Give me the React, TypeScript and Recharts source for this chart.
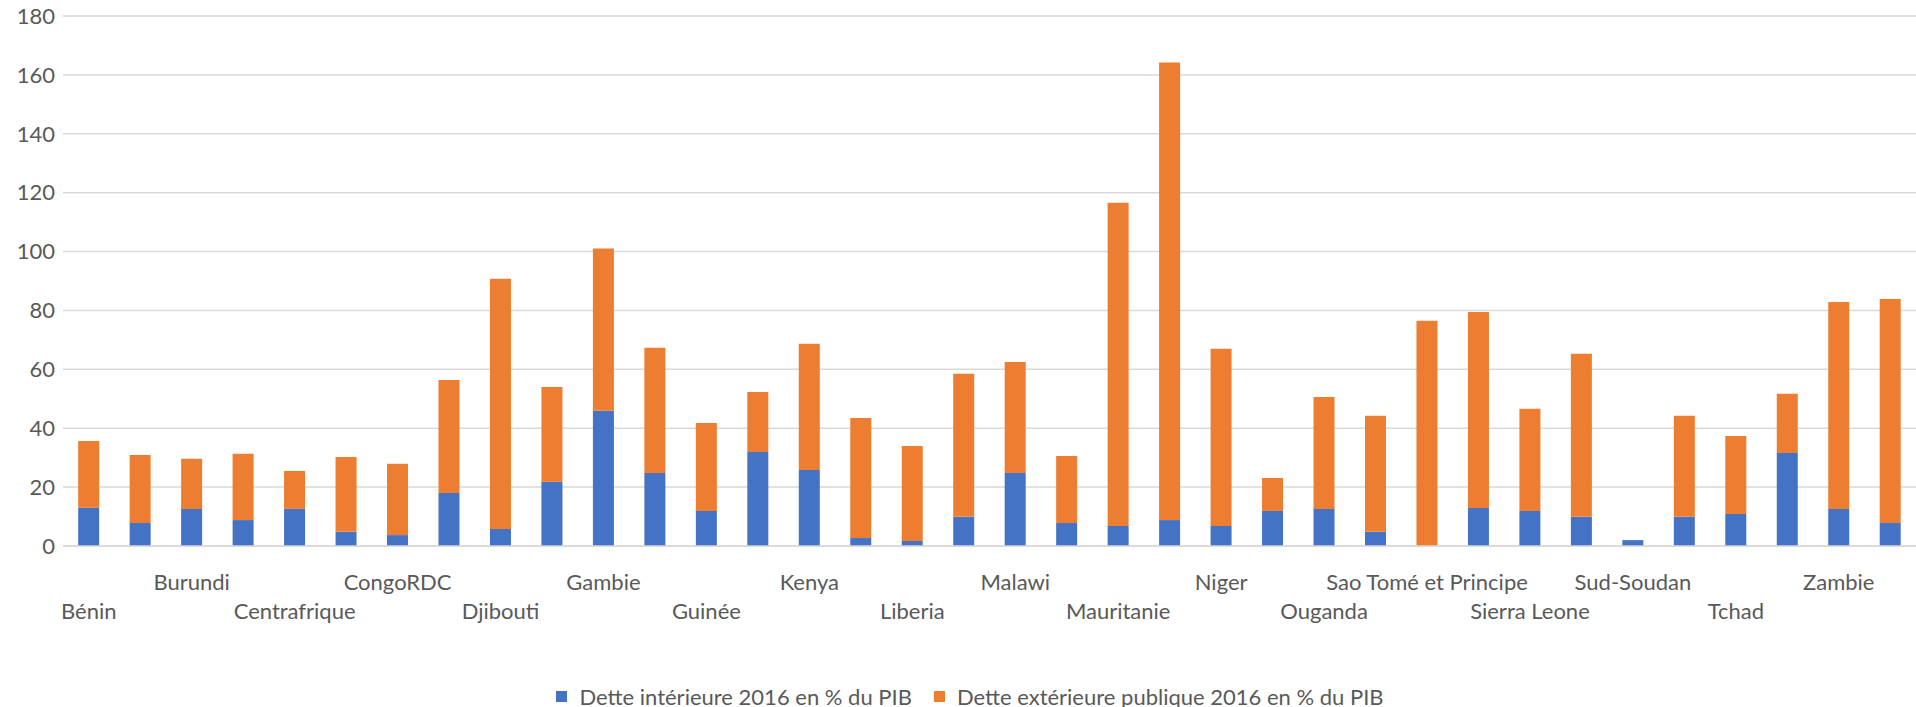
import React from 'react';
import { BarChart, Bar, XAxis, YAxis, CartesianGrid, Legend } from 'recharts';

const COUNTRIES = [
  'Bénin', 'Burkina Faso', 'Burundi', 'Cameroun', 'Centrafrique', 'Comores',
  'CongoRDC', "Côte d'Ivoire", 'Djibouti', 'Ethiopie', 'Gambie', 'Ghana',
  'Guinée', 'Guinée-Bissau', 'Kenya', 'Lesotho', 'Liberia', 'Madagascar',
  'Malawi', 'Mali', 'Mauritanie', 'Mozambique', 'Niger', 'Nigeria',
  'Ouganda', 'Rwanda', 'Sao Tomé et Principe', 'Sénégal', 'Sierra Leone', 'Somalie',
  'Sud-Soudan', 'Tanzanie', 'Tchad', 'Togo', 'Zambie', 'Zimbabwe',
];

// Dette intérieure 2016 en % du PIB
const DETTE_INTERIEURE = [
  13.0, 7.8, 12.6, 8.8, 12.6, 4.8,
  3.7, 18.0, 5.8, 21.8, 45.9, 24.8,
  11.9, 31.9, 25.8, 2.7, 1.7, 9.9,
  24.8, 7.8, 6.8, 8.8, 6.8, 11.9,
  12.6, 4.8, 0, 12.9, 11.9, 9.9,
  2.0, 9.9, 10.9, 31.6, 12.6, 7.8,
];

// Dette extérieure publique 2016 en % du PIB
const DETTE_EXTERIEURE = [
  22.7, 23.1, 17.0, 22.5, 12.9, 25.4,
  24.2, 38.4, 85.0, 32.2, 55.1, 42.5,
  29.9, 20.4, 42.9, 40.8, 32.3, 48.6,
  37.7, 22.8, 109.8, 155.4, 60.2, 11.2,
  38.0, 39.4, 76.5, 66.6, 34.7, 55.4,
  0, 34.3, 26.5, 20.1, 70.3, 76.1,
];

const Y_TICKS = [0, 20, 40, 60, 80, 100, 120, 140, 160, 180];

const SERIES = [
  { key: 'interieure', name: 'Dette intérieure 2016 en % du PIB', color: '#4472C4' },
  { key: 'exterieure', name: 'Dette extérieure publique 2016 en % du PIB', color: '#ED7D31' },
];

const FONT = 'Lato, "Open Sans", sans-serif';
const TEXT = '#595959';

const data = COUNTRIES.map((pays, i) => ({
  pays,
  interieure: DETTE_INTERIEURE[i],
  exterieure: DETTE_EXTERIEURE[i],
}));

// labels are staggered on two rows, every other country shown
const CountryTick = (props: any) => {
  const { x, y, payload } = props;
  const idx = COUNTRIES.indexOf(payload.value);
  const upper = (idx / 2) % 2 === 1;
  return (
    <text
      x={x}
      y={y + (upper ? 35 : 64)}
      textAnchor="middle"
      dominantBaseline="central"
      fill={TEXT}
      fontSize={22}
      fontFamily={FONT}
    >
      {payload.value}
    </text>
  );
};

const LegendBox = () => (
  <div
    style={{
      height: 22,
      display: 'flex',
      justifyContent: 'center',
      alignItems: 'center',
      paddingLeft: 24,
      fontFamily: FONT,
      fontSize: 22,
      color: TEXT,
      whiteSpace: 'nowrap',
    }}
  >
    {SERIES.map((s, i) => (
      <div key={s.key} style={{ display: 'flex', alignItems: 'center', marginLeft: i ? 22 : 0 }}>
        <span style={{ width: 11, height: 11, background: s.color, marginRight: 12, display: 'inline-block' }} />
        <span>{s.name}</span>
      </div>
    ))}
  </div>
);

export default function App() {
  return (
    <div style={{ position: 'absolute', left: 0, top: 0, background: '#fff' }}>
      <BarChart
        width={1916}
        height={707}
        data={data}
        margin={{ top: 16, right: 0, left: 0, bottom: 0 }}
        barCategoryGap="29.5%"
      >
        <CartesianGrid vertical={false} stroke="#d9d9d9" strokeWidth={1.5} />
        <XAxis
          dataKey="pays"
          interval={1}
          height={139}
          tickSize={0}
          tickMargin={0}
          tickLine={false}
          axisLine={{ stroke: '#d9d9d9', strokeWidth: 1.5 }}
          tick={<CountryTick />}
        />
        <YAxis
          width={63}
          domain={[0, 180]}
          ticks={Y_TICKS}
          interval={0}
          tickSize={0}
          tickMargin={8}
          tickLine={false}
          axisLine={false}
          tick={{ fill: TEXT, fontSize: 22, fontFamily: FONT }}
        />
        <Legend verticalAlign="bottom" content={() => <LegendBox />} />
        {SERIES.map((s) => (
          <Bar
            key={s.key}
            dataKey={s.key}
            name={s.name}
            stackId="dette"
            fill={s.color}
            isAnimationActive={false}
          />
        ))}
      </BarChart>
    </div>
  );
}
